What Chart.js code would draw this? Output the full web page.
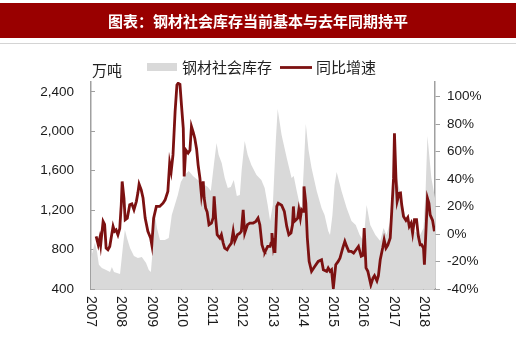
<!DOCTYPE html>
<html lang="zh-CN">
<head>
<meta charset="UTF-8">
<title>钢材社会库存当前基本与去年同期持平</title>
<script src="https://cdn.jsdelivr.net/npm/chart.js"></script>
<style>
    html, body {
        margin: 0;
        padding: 0;
        background: #fff;
        overflow: hidden;
    }
    canvas { display: block; }
</style>
</head>
<body>
<canvas id="stockChart" width="520" height="337"></canvas>
<script>
const titleText = '图表：钢材社会库存当前基本与去年同期持平';
const unitText = '万吨';
const invLabel = '钢材社会库存';
const yoyLabel = '同比增速';

const yearTicks = [2007, 2008, 2009, 2010, 2011, 2012, 2013, 2014, 2015, 2016, 2017, 2018];
const invTicks = [400, 800, 1200, 1600, 2000, 2400];
const yoyTicks = [-40, -20, 0, 20, 40, 60, 80, 100];

// 钢材社会库存 (万吨)
const invYears = [
    2007.00, 2007.07, 2007.13, 2007.20, 2007.26, 2007.36, 2007.50, 2007.63, 2007.69, 2007.76, 2007.86, 2007.96,
    2008.06, 2008.12, 2008.19, 2008.29, 2008.42, 2008.55, 2008.68, 2008.82, 2008.91, 2008.98,
    2009.05, 2009.11, 2009.18, 2009.28, 2009.44, 2009.57, 2009.67, 2009.77, 2009.87, 2009.97,
    2010.10, 2010.23, 2010.37, 2010.53, 2010.70, 2010.86, 2010.96,
    2011.06, 2011.15, 2011.22, 2011.32, 2011.42, 2011.52, 2011.62, 2011.72, 2011.82, 2011.92, 2011.98,
    2012.08, 2012.18, 2012.30, 2012.47, 2012.63, 2012.74, 2012.84, 2012.92,
    2013.01, 2013.11, 2013.17, 2013.30, 2013.47, 2013.63, 2013.70, 2013.80, 2013.90, 2013.96,
    2014.03, 2014.10, 2014.19, 2014.29, 2014.46, 2014.62, 2014.72, 2014.84, 2014.90, 2014.98,
    2015.05, 2015.12, 2015.28, 2015.45, 2015.61, 2015.75, 2015.88,
    2016.01, 2016.11, 2016.23, 2016.40, 2016.56, 2016.67, 2016.77, 2016.90,
    2017.00, 2017.10, 2017.20, 2017.39, 2017.55, 2017.72, 2017.88, 2017.99,
    2018.06, 2018.12, 2018.25, 2018.37
];
const invValues = [
    715, 800, 870, 775, 645, 613, 593, 573, 623, 573, 562, 552,
    847, 1000, 918, 816, 735, 715, 725, 664, 593, 573,
    847, 1160, 1020, 897, 897, 918, 1150, 1253, 1354, 1486,
    1557, 1598, 1547, 1506, 1466, 1435, 1395,
    1659, 1882, 1760, 1679, 1527, 1425, 1435, 1506, 1344, 1354, 1608,
    1902, 1760, 1659, 1557, 1506, 1425, 1253, 1090,
    1253, 1912, 2227, 1963, 1730, 1527, 1547, 1395, 1253, 1192,
    1608, 2075, 1811, 1628, 1395, 1222, 1151, 989, 948, 1151,
    1456, 1588, 1395, 1222, 1090, 1050, 948,
    887, 1253, 1050, 948, 887, 1019, 948, 1100,
    1405, 1527, 1405, 1120, 1019, 979, 948, 1019,
    1405, 1953, 1527, 1324
];

// 同比增速 (%)
const yoyYears = [
    2007.17, 2007.24, 2007.29, 2007.32, 2007.40, 2007.45, 2007.50, 2007.56, 2007.62, 2007.73, 2007.78, 2007.83, 2007.89, 2007.95,
    2008.00, 2008.03, 2008.09, 2008.13, 2008.20, 2008.28, 2008.35, 2008.42, 2008.50, 2008.55, 2008.59, 2008.66, 2008.72, 2008.79, 2008.88, 2008.97,
    2009.01, 2009.07, 2009.16, 2009.27, 2009.38, 2009.45, 2009.54, 2009.60, 2009.65, 2009.71, 2009.78, 2009.84, 2009.88, 2009.94, 2009.99,
    2010.05, 2010.08, 2010.13, 2010.21, 2010.27, 2010.32, 2010.38, 2010.43, 2010.49, 2010.54, 2010.60, 2010.65, 2010.71, 2010.74, 2010.79, 2010.84, 2010.90, 2010.98,
    2011.04, 2011.07, 2011.12, 2011.17, 2011.26, 2011.31, 2011.37, 2011.42, 2011.50, 2011.56, 2011.64, 2011.70, 2011.75, 2011.84, 2011.92, 2011.97,
    2012.03, 2012.08, 2012.17, 2012.25, 2012.36, 2012.44, 2012.52, 2012.58, 2012.65, 2012.72, 2012.75, 2012.84, 2012.92, 2012.95, 2012.98,
    2013.02, 2013.05, 2013.08, 2013.14, 2013.19, 2013.30, 2013.39, 2013.47, 2013.54, 2013.61, 2013.66, 2013.69, 2013.72, 2013.78, 2013.83, 2013.87, 2013.92, 2013.96,
    2014.01, 2014.04, 2014.10, 2014.15, 2014.21, 2014.29, 2014.40, 2014.51, 2014.62, 2014.68, 2014.79, 2014.84, 2014.90, 2014.95,
    2015.01, 2015.09, 2015.17, 2015.23, 2015.32, 2015.39, 2015.45, 2015.52, 2015.60, 2015.68, 2015.76, 2015.84, 2015.93, 2015.99,
    2016.03, 2016.09, 2016.15, 2016.20, 2016.25, 2016.32, 2016.37, 2016.45, 2016.50, 2016.56, 2016.64, 2016.69, 2016.75, 2016.81, 2016.89, 2016.94,
    2017.00, 2017.03, 2017.08, 2017.12, 2017.19, 2017.23, 2017.27, 2017.33, 2017.41, 2017.47, 2017.52, 2017.58, 2017.63, 2017.69, 2017.76, 2017.82, 2017.88, 2017.93, 2017.99,
    2018.02, 2018.07, 2018.12, 2018.17, 2018.21, 2018.29, 2018.35
];
const yoyValues = [
    -1.7, -7.8, -3, -7.8, 9.2, 7, -10.2, -11.4, -9, 5.6, 2, 3, -0.5, 4,
    21.3, 38.3, 26, 10.4, 11.5, 21.3, 22, 17.7, 23.8, 30, 36.3, 32.2, 26.2, 11.6, 2, -2.9,
    -7.8, 11.6, 20.1, 20.1, 22.5, 24.9, 31, 51.6, 45.6, 57.6, 89.2, 108.5, 109.8, 109, 94,
    77, 42, 61.3, 59, 61, 78.3, 74, 69.8, 62, 50.4, 40.7, 28.6, 38.3, 26.2, 18.9, 16, 6.8, 8,
    12, 27.4, 11.6, -0.5, -2.9, -0.5, -6.6, -10.2, -11.4, -9, -6.6, 2, -5.3, -0.5, 0.7, 2,
    17.7, 0.7, 6.8, 8, 8, 9, 11.6, 6.8, -7.8, -12.6, -13, -9, -9, -6.6, 0.7,
    -7.8, -3, -13.8, 20.1, 22.5, 21, 16.5, 5.6, -0.5, 0.7, 6.8, 20.1, 9.2, 10.4, 11.6, 17.7, 11.6, 17.7,
    16.5, 34.7, 22.5, -2.9, -19.9, -27.1, -23.5, -19.9, -18.7, -26, -27.1, -24.7, -27.1, -26,
    -39.3, -22.3, -19.9, -17.5, -10.2, -5.3, -9, -12.6, -12.6, -13.8, -11.4, -9, -16.2, -15.5,
    4.3, -24.7, -27.1, -32, -36.9, -32, -30.3, -34, -30.3, -18.7, -10.2, -4.2, -10.2, -8, -2.9, 16.5,
    40.7, 73.4, 40.7, 23.8, 29.8, 30, 21.3, 12.8, 10, 12, 5.6, 8, 0.7, 10.4, 10.4, -1.7, -7.8, -7.8, -10.2,
    -22.3, 2, 26.2, 22.5, 14, 10, 2
];

const invColor = '#d9d9d9';
const yoyColor = '#7c1111';
const tickFont = { family: '"Liberation Sans", Arial, sans-serif', size: 13.5 };
const cjkFont = '"Noto Sans CJK SC", sans-serif';

const decor = {
    id: 'decor',
    beforeDraw(chart) {
        const c = chart.ctx;
        c.save();
        c.fillStyle = '#fff';
        c.fillRect(0, 0, chart.width, chart.height);
        c.fillStyle = '#990000';
        c.fillRect(0, 3, 516, 35);
        c.strokeStyle = '#d4d4d4';
        c.lineWidth = 1;
        c.beginPath();
        c.moveTo(0, 43.5);
        c.lineTo(516, 43.5);
        c.stroke();
        c.fillStyle = '#fff';
        c.font = 'bold 15px ' + cjkFont;
        c.textAlign = 'center';
        c.textBaseline = 'middle';
        c.fillText(titleText, 258, 21);
        c.restore();
    },
    afterDraw(chart) {
        const c = chart.ctx;
        const xs = chart.scales.x;
        c.save();
        // unit + legend
        c.fillStyle = '#222';
        c.font = '15px ' + cjkFont;
        c.textAlign = 'left';
        c.textBaseline = 'middle';
        c.fillText(unitText, 92, 70);
        c.fillStyle = invColor;
        c.fillRect(147, 63, 30, 8);
        c.fillStyle = '#222';
        c.fillText(invLabel, 182, 67);
        c.strokeStyle = yoyColor;
        c.lineWidth = 2.8;
        c.beginPath();
        c.moveTo(280, 67.5);
        c.lineTo(312, 67.5);
        c.stroke();
        c.fillText(yoyLabel, 316, 67);
        // year labels, rotated clockwise
        c.font = '14px "Liberation Sans", Arial, sans-serif';
        c.fillStyle = '#1a1a1a';
        c.textBaseline = 'middle';
        yearTicks.forEach(yr => {
            const px = xs.getPixelForValue(yr);
            c.save();
            c.translate(px, 296);
            c.rotate(Math.PI / 2);
            c.fillText(String(yr), 0, 0);
            c.restore();
        });
        c.restore();
    }
};

new Chart(document.getElementById('stockChart'), {
    type: 'line',
    data: {
        datasets: [
            {
                label: yoyLabel,
                data: yoyYears.map((x, i) => ({ x: x, y: yoyValues[i] })),
                yAxisID: 'y1',
                borderColor: yoyColor,
                borderWidth: 2.8,
                pointRadius: 0,
                tension: 0,
                fill: false,
                order: 0
            },
            {
                label: invLabel,
                data: invYears.map((x, i) => ({ x: x, y: invValues[i] })),
                yAxisID: 'y',
                borderWidth: 0,
                borderColor: invColor,
                backgroundColor: invColor,
                pointRadius: 0,
                tension: 0,
                fill: 'start',
                order: 1
            }
        ]
    },
    options: {
        responsive: false,
        animation: false,
        devicePixelRatio: 1,
        layout: { padding: { top: 82, left: 0, right: 0, bottom: 0 } },
        plugins: {
            legend: { display: false },
            tooltip: { enabled: false }
        },
        scales: {
            x: {
                type: 'linear',
                min: 2007,
                max: 2018.37,
                afterBuildTicks: s => { s.ticks = yearTicks.map(v => ({ value: v })); },
                afterFit: s => { s.height = 48; },
                ticks: { display: false },
                grid: { drawOnChartArea: false, tickLength: -3, color: '#a0a0a0', lineWidth: 1 },
                border: { color: '#a0a0a0', width: 1.5 }
            },
            y: {
                position: 'left',
                min: 400,
                max: 2500,
                afterBuildTicks: s => { s.ticks = invTicks.map(v => ({ value: v })); },
                afterFit: s => { s.width = 91; },
                ticks: {
                    padding: 21,
                    color: '#1a1a1a',
                    font: tickFont,
                    callback: v => v.toLocaleString('en-US')
                },
                grid: { drawOnChartArea: false, tickLength: -4, color: '#a0a0a0', lineWidth: 1 },
                border: { color: '#a0a0a0', width: 1.5 }
            },
            y1: {
                position: 'right',
                min: -40,
                max: 110.7,
                afterBuildTicks: s => { s.ticks = yoyTicks.map(v => ({ value: v })); },
                afterFit: s => { s.width = 85; },
                ticks: {
                    padding: 7,
                    color: '#1a1a1a',
                    font: tickFont,
                    callback: v => v + '%'
                },
                grid: { drawOnChartArea: false, tickLength: 5, color: '#a0a0a0', lineWidth: 1 },
                border: { color: '#a0a0a0', width: 1.5 }
            }
        }
    },
    plugins: [decor]
});
</script>
</body>
</html>
